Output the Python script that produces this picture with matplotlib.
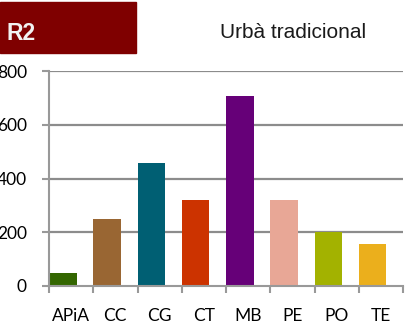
import matplotlib.pyplot as plt
from matplotlib.patches import Rectangle

# dades del gràfic
categories = ["APiA", "CC", "CG", "CT", "MB", "PE", "PO", "TE"]
valors = [50, 248, 457, 320, 707, 320, 202, 156]
colors = ["#336600", "#996633", "#005F73", "#CC3300", "#660078", "#E8A796", "#A3B200", "#EBAF1C"]
yticks = [0, 200, 400, 600, 800]

fig = plt.figure(figsize=(4.13, 3.30), dpi=100)
ax = fig.add_axes([49 / 413, 44 / 330, 354 / 413, 215 / 330])

# barres alineades a l'esquerra de cada categoria
pos = list(range(len(categories)))
ax.bar(pos, valors, width=0.625, align="edge", color=colors, zorder=3)

ax.set_xlim(0, len(categories))
ax.set_ylim(0, 800)

# línies de graella
for y in yticks[1:]:
    ax.axhline(y, color="#8C8C8C", lw=1.6, zorder=1)

ax.set_yticks(yticks)
ax.set_yticklabels([str(v) for v in yticks], fontfamily="Lato", fontsize=12.5)
ax.set_xticks([i + 0.5 for i in pos])
ax.set_xticklabels(categories, fontfamily="Lato", fontsize=12.5)
ax.set_xticks(range(len(categories) + 1), minor=True)
ax.tick_params(axis="x", which="major", length=0, pad=16)
ax.tick_params(axis="x", which="minor", length=5, width=1.5, color="#999999")
ax.tick_params(axis="y", length=5, width=1.5, color="#999999", pad=11)

for s in ["top", "right"]:
    ax.spines[s].set_visible(False)
for s in ["left", "bottom"]:
    ax.spines[s].set_color("#999999")
    ax.spines[s].set_linewidth(1.5)
    ax.spines[s].set_zorder(4)

# capçalera
fig.patches.append(Rectangle((0, 1 - 53 / 330), 136 / 413, 51 / 330,
                             transform=fig.transFigure, color="#7F0000", zorder=0))
fig.text(6 / 413, 1 - 34 / 330, "R2", color="#F2F2F2", fontsize=16.5, fontweight="bold",
         fontfamily="Liberation Sans", va="center", ha="left")
fig.text(293 / 413, 1 - 32 / 330, "Urbà tradicional", color="#1A1A1A", fontsize=15,
         fontfamily="Liberation Sans", va="center", ha="center")

fig.savefig("out.png", dpi=100)
